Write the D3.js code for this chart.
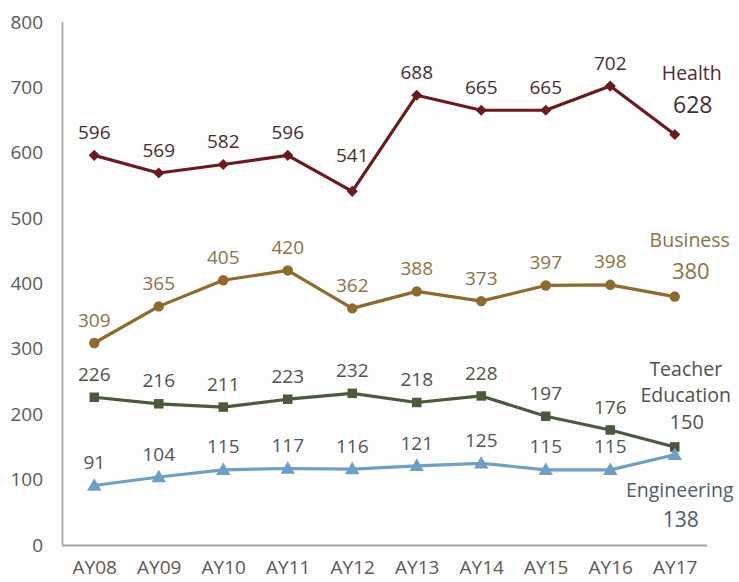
<!DOCTYPE html>
<html>
<head>
<meta charset="utf-8">
<script src="https://cdn.jsdelivr.net/npm/d3@7"></script>
<style>
  html, body { margin: 0; padding: 0; background: #fdfdfd; }
  svg { display: block; font-family: "Open Sans", "Noto Sans", sans-serif; }
</style>
</head>
<body>
<svg id="chart" width="739" height="582"></svg>
<script>
// ---- data ----
const years = ["AY08","AY09","AY10","AY11","AY12","AY13","AY14","AY15","AY16","AY17"];
const health      = [596, 569, 582, 596, 541, 688, 665, 665, 702, 628];
const business    = [309, 365, 405, 420, 362, 388, 373, 397, 398, 380];
const teacher     = [226, 216, 211, 223, 232, 218, 228, 197, 176, 150];
const engineering = [91, 104, 115, 117, 116, 121, 125, 115, 115, 138];
const yTicks = [0, 100, 200, 300, 400, 500, 600, 700, 800];

// ---- layout ----
const svg = d3.select("#chart");
const x = d3.scalePoint().domain(years).range([62, 707]).padding(0.5);
const y = d3.scaleLinear().domain([0, 800]).range([545, 22]);

const axisColor = "#aaa19d";
const tickColor = "#5e5856";

// axes
const yAxis = svg.append("g").attr("transform", "translate(62,0)")
  .call(d3.axisLeft(y).tickValues(yTicks).tickSize(0).tickPadding(19));
yAxis.select(".domain").attr("stroke", axisColor).attr("stroke-width", 1.6)
  .attr("d", `M0.5,${y(800)}V${y(0)}`);
yAxis.selectAll("text").attr("fill", tickColor).style("font-size", "19px")
  .style("font-family", "'Open Sans', sans-serif");

const xAxis = svg.append("g").attr("transform", `translate(0,${y(0)})`)
  .call(d3.axisBottom(x).tickSize(0).tickPadding(16));
xAxis.select(".domain").attr("stroke", axisColor).attr("stroke-width", 1.8)
  .attr("d", "M62,0.5H707");
xAxis.selectAll("text").attr("fill", tickColor).style("font-size", "19px")
  .style("font-family", "'Open Sans', sans-serif");

const series = [
  { name: ["Health"], values: health, color: "#6b1a1e", label: "#4a2c30", nameColor: "#4a2c30",
    marker: d3.symbolSquare, rotate: 45, size: 62, nameDy: [-61], valDy: -29, nameDx: 17, valSize: 23 },
  { name: ["Business"], values: business, color: "#8e6a2c", label: "#8f7244", nameColor: "#8f7244",
    marker: d3.symbolCircle, rotate: 0, size: 85, nameDy: [-56], valDy: -25, nameDx: 15, valSize: 22 },
  { name: ["Teacher", "Education"], values: teacher, color: "#4a5a3a", label: "#52514b", nameColor: "#52514b",
    marker: d3.symbolSquare, rotate: 0, size: 90, nameDy: [-78, -52], valDy: -25, nameDx: 11, valSize: 20 },
  { name: ["Engineering"], values: engineering, color: "#6fa0c3", label: "#51555b", nameColor: "#4e5d69",
    marker: d3.symbolTriangle, rotate: 0, size: 90, nameDy: [35], valDy: 65, nameDx: 5, valSize: 21 }
];

// special label offsets (label centre relative to point)
const labelOffset = { "Health-4": -36 };

const line = d3.line().x((d, i) => x(years[i])).y(d => y(d));

series.forEach(s => {
  const g = svg.append("g");
  g.append("path").datum(s.values)
    .attr("d", line).attr("fill", "none")
    .attr("stroke", s.color).attr("stroke-width", 3.2).attr("stroke-linejoin", "round");

  g.selectAll("path.m").data(s.values).join("path").attr("class", "m")
    .attr("transform", (d, i) => `translate(${x(years[i])},${y(d) + (s.marker === d3.symbolTriangle ? 1 : 0)}) rotate(${s.rotate})`)
    .attr("d", d3.symbol().type(s.marker).size(s.size))
    .attr("fill", s.color);

  // data labels for all but last
  g.selectAll("text.v").data(s.values.slice(0, -1)).join("text").attr("class", "v")
    .attr("x", (d, i) => x(years[i]))
    .attr("y", (d, i) => y(d) + (labelOffset[s.name[0] + "-" + i] || -23))
    .attr("dy", "0.35em")
    .attr("text-anchor", "middle")
    .attr("fill", s.label).style("font-size", "19px")
    .text(d => d);

  const lx = x(years[years.length - 1]);
  const ly = y(s.values[s.values.length - 1]);
  s.name.forEach((n, k) => {
    g.append("text").attr("x", lx + s.nameDx).attr("y", ly + s.nameDy[k]).attr("dy", "0.35em")
      .attr("text-anchor", "middle").attr("fill", s.nameColor).style("font-size", "19.5px").text(n);
  });
  g.append("text").attr("x", lx + s.nameDx + 1).attr("y", ly + s.valDy).attr("dy", "0.35em")
    .attr("text-anchor", "middle").attr("fill", s.nameColor).style("font-size", s.valSize + "px")
    .text(s.values[s.values.length - 1]);
});
</script>
</body>
</html>
